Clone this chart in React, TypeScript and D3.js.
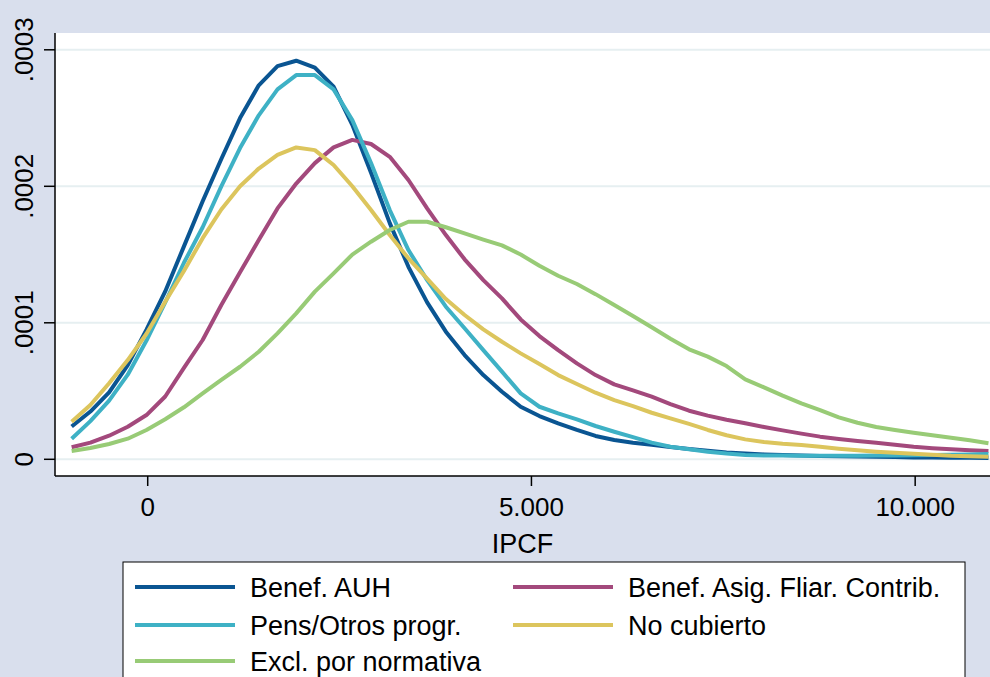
import * as d3 from "d3";

const W = 990;
const H = 677;

// IPCF evaluation points of the kernel density (50 points)
const ipcf = [
  -991, -747, -503, -260, -16, 228, 472, 716, 959, 1203,
  1447, 1691, 1935, 2178, 2422, 2666, 2910, 3154, 3397, 3641,
  3885, 4129, 4373, 4616, 4860, 5104, 5348, 5592, 5835, 6079,
  6323, 6567, 6811, 7054, 7298, 7542, 7786, 8030, 8273, 8517,
  8761, 9005, 9249, 9492, 9736, 9980, 10224, 10468, 10711, 10955,
];

// densities, in units of 0.0001
const benefAUH = [
  0.24, 0.35, 0.49, 0.69, 0.95, 1.23, 1.56, 1.89, 2.2, 2.5,
  2.74, 2.88, 2.92, 2.87, 2.73, 2.45, 2.1, 1.73, 1.41, 1.15,
  0.935, 0.764, 0.617, 0.495, 0.385, 0.317, 0.264, 0.215, 0.171, 0.141,
  0.122, 0.107, 0.09, 0.075, 0.063, 0.05, 0.042, 0.036, 0.031, 0.028,
  0.025, 0.022, 0.02, 0.018, 0.016, 0.014, 0.013, 0.012, 0.011, 0.01,
];
const benefAsig = [
  0.088, 0.122, 0.173, 0.239, 0.324, 0.46, 0.67, 0.874, 1.13, 1.37,
  1.606, 1.838, 2.02, 2.17, 2.285, 2.34, 2.31, 2.216, 2.046, 1.838,
  1.643, 1.465, 1.313, 1.179, 1.025, 0.903, 0.8, 0.703, 0.617, 0.549,
  0.505, 0.459, 0.405, 0.356, 0.32, 0.29, 0.264, 0.237, 0.212, 0.188,
  0.166, 0.149, 0.134, 0.122, 0.107, 0.092, 0.081, 0.073, 0.066, 0.061,
];
const pensOtros = [
  0.15, 0.28, 0.43, 0.62, 0.87, 1.15, 1.44, 1.7, 2.0, 2.28,
  2.52, 2.71, 2.815, 2.815, 2.71, 2.485, 2.17, 1.826, 1.533, 1.313,
  1.118, 0.96, 0.8, 0.642, 0.483, 0.385, 0.337, 0.293, 0.244, 0.202,
  0.163, 0.122, 0.092, 0.073, 0.056, 0.042, 0.032, 0.028, 0.027, 0.026,
  0.026, 0.026, 0.026, 0.027, 0.028, 0.029, 0.031, 0.033, 0.036, 0.039,
];
const noCubierto = [
  0.275, 0.398, 0.557, 0.727, 0.92, 1.154, 1.38, 1.62, 1.83, 2.0,
  2.13, 2.23, 2.285, 2.265, 2.156, 2.0, 1.826, 1.643, 1.472, 1.323,
  1.174, 1.057, 0.952, 0.861, 0.776, 0.698, 0.617, 0.552, 0.488, 0.434,
  0.39, 0.341, 0.3, 0.259, 0.215, 0.176, 0.146, 0.127, 0.114, 0.105,
  0.092, 0.078, 0.066, 0.056, 0.048, 0.041, 0.034, 0.026, 0.022, 0.019,
];
const exclNormativa = [
  0.061, 0.083, 0.112, 0.151, 0.215, 0.293, 0.381, 0.483, 0.581, 0.678,
  0.788, 0.923, 1.069, 1.228, 1.362, 1.5, 1.594, 1.68, 1.74, 1.74,
  1.7, 1.655, 1.61, 1.567, 1.5, 1.418, 1.345, 1.284, 1.21, 1.13,
  1.05, 0.967, 0.883, 0.806, 0.752, 0.683, 0.586, 0.527, 0.466, 0.41,
  0.361, 0.307, 0.268, 0.237, 0.215, 0.195, 0.176, 0.158, 0.139, 0.117,
];

const xTicks = [0, 5000, 10000];
const xTickLabels = ["0", "5.000", "10.000"];
const yTicks = [0, 1, 2, 3];
const yTickLabels = ["0", ".0001", ".0002", ".0003"];

const series = [
  { name: "Benef. AUH", values: benefAUH, color: "#0a5592", col: 0, row: 0 },
  { name: "Benef. Asig. Fliar. Contrib.", values: benefAsig, color: "#a3497c", col: 1, row: 0 },
  { name: "Pens/Otros progr.", values: pensOtros, color: "#3eb1c5", col: 0, row: 1 },
  { name: "No cubierto", values: noCubierto, color: "#dcc55d", col: 1, row: 1 },
  { name: "Excl. por normativa", values: exclNormativa, color: "#98cb76", col: 0, row: 2 },
];

const BG = "#d9dfed";
const GRID = "#e6eff1";
const FONT = "'Liberation Sans', Arial, Helvetica, sans-serif";

export default function App() {
  const plot = { left: 55, right: 990, top: 33, bottom: 476 };

  const x = d3.scaleLinear().domain([-1208, 10975]).range([plot.left, plot.right]);
  const y = d3.scaleLinear().domain([0, 3]).range([459.3, 49.8]);

  const line = d3
    .line<number>()
    .x((_, i) => x(ipcf[i]))
    .y((d) => y(d));

  const legend = { x: 123, y: 562, w: 842, h: 130 };
  const colX = [135, 513];
  const rowY = [587, 625, 661];

  return (
    <svg
      width={W}
      height={H}
      style={{ position: "absolute", left: 0, top: 0, display: "block" }}
      fontFamily={FONT}
    >
      <rect x={0} y={0} width={W} height={H} fill={BG} />
      <rect
        x={plot.left}
        y={plot.top}
        width={plot.right - plot.left}
        height={plot.bottom - plot.top}
        fill="#ffffff"
      />

      {/* gridlines */}
      {yTicks.map((t) => (
        <line
          key={"g" + t}
          x1={plot.left}
          x2={plot.right}
          y1={y(t)}
          y2={y(t)}
          stroke={GRID}
          strokeWidth={2}
        />
      ))}

      {/* density curves */}
      {series.map((s) => (
        <path
          key={s.name}
          d={line(s.values) ?? ""}
          fill="none"
          stroke={s.color}
          strokeWidth={4}
          strokeLinejoin="round"
        />
      ))}

      {/* y axis */}
      <line x1={plot.left} x2={plot.left} y1={plot.top} y2={plot.bottom} stroke="#000" strokeWidth={1.5} />
      {yTicks.map((t, i) => (
        <g key={"y" + t}>
          <line x1={plot.left - 11} x2={plot.left} y1={y(t)} y2={y(t)} stroke="#000" strokeWidth={1.5} />
          <text
            transform={`translate(33,${y(t)}) rotate(-90)`}
            textAnchor="middle"
            fontSize={26}
            fill="#000"
          >
            {yTickLabels[i]}
          </text>
        </g>
      ))}

      {/* x axis */}
      <line x1={plot.left} x2={plot.right} y1={plot.bottom} y2={plot.bottom} stroke="#000" strokeWidth={1.5} />
      {xTicks.map((t, i) => (
        <g key={"x" + t}>
          <line x1={x(t)} x2={x(t)} y1={plot.bottom} y2={plot.bottom + 10} stroke="#000" strokeWidth={1.5} />
          <text x={x(t)} y={516} textAnchor="middle" fontSize={26} fill="#000">
            {xTickLabels[i]}
          </text>
        </g>
      ))}
      <text x={(plot.left + plot.right) / 2} y={553} textAnchor="middle" fontSize={27} fill="#000">
        IPCF
      </text>

      {/* legend */}
      <rect x={legend.x} y={legend.y} width={legend.w} height={legend.h} fill="#ffffff" stroke="#000" strokeWidth={1} />
      {series.map((s) => (
        <g key={"l" + s.name}>
          <line
            x1={colX[s.col]}
            x2={colX[s.col] + 100}
            y1={rowY[s.row]}
            y2={rowY[s.row]}
            stroke={s.color}
            strokeWidth={4}
          />
          <text x={colX[s.col] + 115} y={rowY[s.row] + 10} fontSize={27} fill="#000">
            {s.name}
          </text>
        </g>
      ))}
    </svg>
  );
}
